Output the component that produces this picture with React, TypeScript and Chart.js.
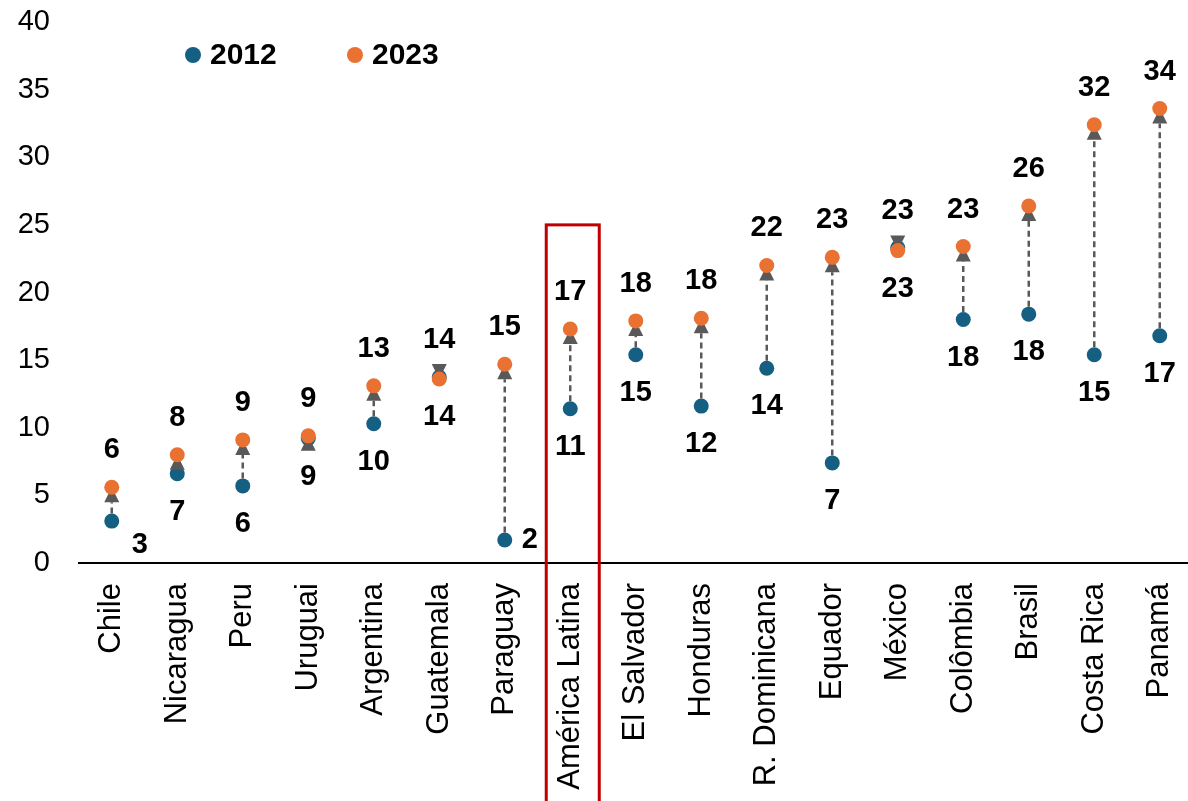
import React, { useEffect, useRef } from 'react';
import { Chart, registerables } from 'chart.js';

Chart.register(...registerables);

const categories = [
  'Chile', 'Nicaragua', 'Peru', 'Uruguai', 'Argentina', 'Guatemala', 'Paraguay',
  'América Latina', 'El Salvador', 'Honduras', 'R. Dominicana', 'Equador',
  'México', 'Colômbia', 'Brasil', 'Costa Rica', 'Panamá',
];
const values2012 = [3.1, 6.6, 5.7, 9.2, 10.3, 13.75, 1.7, 11.4, 15.4, 11.6, 14.4, 7.4, 23.3, 18.0, 18.4, 15.4, 16.8];
const values2023 = [5.6, 8.0, 9.1, 9.4, 13.1, 13.6, 14.7, 17.3, 17.9, 18.1, 22.0, 22.6, 23.1, 23.4, 26.4, 32.4, 33.6];
const seriesNames = ['2012', '2023'];
const yMin = 0;
const yMax = 40;
const yStep = 5;
const highlightCategory = 'América Latina';
const highlightTop = 25;

// style
const BLUE = '#156082';
const ORANGE = '#E97132';
const ARROW = '#595959';
const RED = '#C00000';
const FONT = "'Liberation Sans', Arial, sans-serif";
const W = 1200;
const H = 801;
const lowerLabelOffsets: Record<string, [number, number]> = {
  Chile: [28, 24],
  Paraguay: [25, 0],
};

const overlayPlugin = {
  id: 'overlay',
  afterDatasetDraw(chart: any, args: any) {
    if (args.index !== 0) return;
    const ctx = chart.ctx;
    const xs = chart.scales.x;
    const ys = chart.scales.y;
    const R = 7.5;
    ctx.save();
    categories.forEach((_, i) => {
      const x = xs.getPixelForValue(i);
      const y0 = ys.getPixelForValue(values2012[i]);
      const y1 = ys.getPixelForValue(values2023[i]);
      const dir = y1 < y0 ? -1 : 1;
      const baseY = y1 - dir * 15;
      const startY = y0 + dir * R;
      if ((baseY - startY) * dir > 0) {
        ctx.beginPath();
        ctx.setLineDash([6, 4]);
        ctx.lineWidth = 2.5;
        ctx.strokeStyle = ARROW;
        ctx.moveTo(x, startY);
        ctx.lineTo(x, baseY);
        ctx.stroke();
      }
      ctx.setLineDash([]);
      ctx.beginPath();
      ctx.fillStyle = ARROW;
      ctx.moveTo(x, y1);
      ctx.lineTo(x - 7.5, baseY);
      ctx.lineTo(x + 7.5, baseY);
      ctx.closePath();
      ctx.fill();
    });
    ctx.restore();
  },
  afterDatasetsDraw(chart: any) {
    const ctx = chart.ctx;
    const xs = chart.scales.x;
    const ys = chart.scales.y;
    ctx.save();
    // data labels
    ctx.font = `bold 29px ${FONT}`;
    ctx.fillStyle = '#000';
    ctx.textAlign = 'center';
    ctx.textBaseline = 'middle';
    categories.forEach((cat, i) => {
      const x = xs.getPixelForValue(i);
      const y0 = ys.getPixelForValue(values2012[i]);
      const y1 = ys.getPixelForValue(values2023[i]);
      const up = y1 <= y0;
      const topY = Math.min(y0, y1);
      const botY = Math.max(y0, y1);
      const topVal = up ? values2023[i] : values2012[i];
      const botVal = up ? values2012[i] : values2023[i];
      ctx.fillText(String(Math.round(topVal)), x, topY - 37);
      const off = lowerLabelOffsets[cat];
      if (off) {
        ctx.fillText(String(Math.round(botVal)), x + off[0], botY + off[1]);
      } else {
        ctx.fillText(String(Math.round(botVal)), x, botY + 38);
      }
    });
    // highlight box
    const hi = categories.indexOf(highlightCategory);
    const cx = xs.getPixelForValue(hi);
    const top = ys.getPixelForValue(highlightTop);
    ctx.strokeStyle = RED;
    ctx.lineWidth = 3;
    ctx.strokeRect(cx - 24, top, 53, chart.height - top + 10);
    // legend
    const colors = [BLUE, ORANGE];
    const lx = [193, 355];
    ctx.font = `bold 30px ${FONT}`;
    ctx.textAlign = 'left';
    seriesNames.forEach((name, k) => {
      ctx.beginPath();
      ctx.fillStyle = colors[k];
      ctx.arc(lx[k], 55, 8, 0, Math.PI * 2);
      ctx.fill();
      ctx.fillStyle = '#000';
      ctx.fillText(name, lx[k] + 17, 56);
    });
    ctx.restore();
  },
};

export default function App() {
  const ref = useRef<HTMLCanvasElement | null>(null);
  useEffect(() => {
    if (!ref.current) return;
    const chart = new Chart(ref.current, {
      type: 'line',
      data: {
        labels: categories,
        datasets: [
          {
            label: seriesNames[0],
            data: values2012,
            showLine: false,
            pointRadius: 7.5,
            pointHoverRadius: 7.5,
            pointBackgroundColor: BLUE,
            pointBorderWidth: 0,
            borderColor: BLUE,
            backgroundColor: BLUE,
            order: 1,
          },
          {
            label: seriesNames[1],
            data: values2023,
            showLine: false,
            pointRadius: 7.5,
            pointHoverRadius: 7.5,
            pointBackgroundColor: ORANGE,
            pointBorderWidth: 0,
            borderColor: ORANGE,
            backgroundColor: ORANGE,
            order: 0,
          },
        ],
      },
      options: {
        animation: false,
        responsive: false,
        devicePixelRatio: 1,
        layout: { padding: { top: 22, left: 0, right: 2, bottom: 0 } },
        plugins: { legend: { display: false }, tooltip: { enabled: false } },
        events: [],
        scales: {
          x: {
            type: 'category',
            offset: true,
            grid: { display: false, drawTicks: false },
            border: { display: true, color: '#000', width: 2 },
            ticks: {
              autoSkip: false,
              maxRotation: 90,
              minRotation: 90,
              padding: 20,
              color: '#000',
              font: { family: FONT, size: 31 },
            },
            afterFit: (s: any) => {
              s.height = H - 563;
              s.paddingLeft = 0;
              s.paddingRight = 0;
              s.paddingTop = 0;
              s.paddingBottom = 0;
            },
          },
          y: {
            min: yMin,
            max: yMax,
            grid: { display: false, drawTicks: false },
            border: { display: false },
            ticks: {
              stepSize: yStep,
              padding: 29,
              color: '#000',
              font: { family: FONT, size: 29 },
            },
            afterFit: (s: any) => {
              s.width = 79;
              s.paddingTop = 0;
              s.paddingBottom = 0;
              s.paddingLeft = 0;
              s.paddingRight = 0;
            },
          },
        },
      },
      plugins: [overlayPlugin],
    } as any);
    return () => chart.destroy();
  }, []);
  return (
    <div style={{ position: 'fixed', left: 0, top: 0, width: 1188, height: H, overflow: 'hidden', background: '#fff' }}>
      <canvas ref={ref} width={W} height={H} style={{ width: W, height: H, display: 'block' }} />
    </div>
  );
}
